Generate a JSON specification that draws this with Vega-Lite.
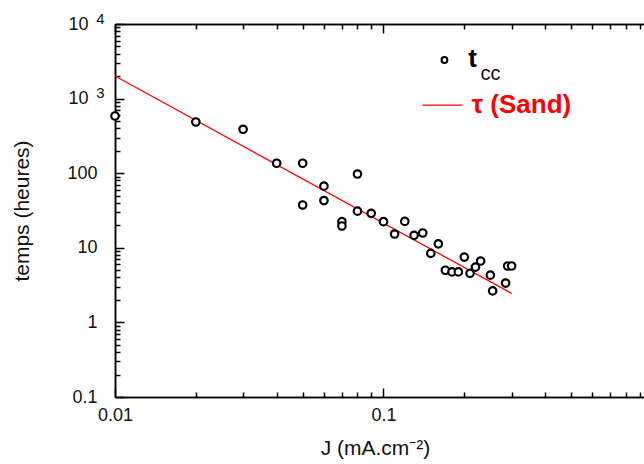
{
  "$schema": "https://vega.github.io/schema/vega-lite/v6.json",
  "width": 529,
  "height": 373,
  "autosize": {"type": "none"},
  "padding": {"left": 115, "top": 24, "right": 0, "bottom": 67},
  "background": "white",
  "config": {
    "view": {"stroke": null},
    "font": "Liberation Sans",
    "axis": {
      "grid": false,
      "domainColor": "#000000",
      "domainWidth": 1.5,
      "tickColor": "#000000",
      "tickWidth": 1.5,
      "labelFont": "Liberation Sans",
      "labelFontSize": 18,
      "labelColor": "#111111",
      "labelFlush": false,
      "labelOverlap": false,
      "labelBound": false,
      "titleFont": "Liberation Sans",
      "titleFontSize": 21,
      "titleFontWeight": "normal",
      "titleColor": "#111111"
    }
  },
  "datasets": {
    "tcc": [
      {"x": 0.01, "y": 585},
      {"x": 0.02, "y": 486},
      {"x": 0.03, "y": 388},
      {"x": 0.04, "y": 136},
      {"x": 0.05, "y": 136},
      {"x": 0.05, "y": 37.5},
      {"x": 0.06, "y": 67},
      {"x": 0.06, "y": 43},
      {"x": 0.07, "y": 22.4},
      {"x": 0.07, "y": 19.6},
      {"x": 0.08, "y": 97.5},
      {"x": 0.08, "y": 31},
      {"x": 0.09, "y": 29},
      {"x": 0.1, "y": 22.4},
      {"x": 0.11, "y": 15.3},
      {"x": 0.12, "y": 22.6},
      {"x": 0.13, "y": 14.7},
      {"x": 0.14, "y": 15.8},
      {"x": 0.15, "y": 8.4},
      {"x": 0.16, "y": 11.3},
      {"x": 0.17, "y": 5.0},
      {"x": 0.18, "y": 4.75},
      {"x": 0.19, "y": 4.75},
      {"x": 0.2, "y": 7.5},
      {"x": 0.21, "y": 4.55},
      {"x": 0.22, "y": 5.5},
      {"x": 0.23, "y": 6.65},
      {"x": 0.25, "y": 4.3},
      {"x": 0.255, "y": 2.64},
      {"x": 0.285, "y": 3.37},
      {"x": 0.29, "y": 5.7},
      {"x": 0.3, "y": 5.7}
    ],
    "sand": [
      {"x": 0.01, "y": 2010},
      {"x": 0.3, "y": 2.45}
    ],
    "legPt": [{"x": 0.1687, "y": 3292}],
    "legLine": [{"x": 0.1397, "x2": 0.1968, "y": 820}],
    "legT": [{"x": 0.207, "y": 2652, "label": "t"}],
    "legCC": [{"x": 0.2298, "y": 1775, "label": "cc"}],
    "legSand": [{"x": 0.2127, "y": 641, "label": "τ (Sand)"}]
  },
  "layer": [
    {
      "data": {"name": "sand"},
      "mark": {"type": "line", "color": "#ff0000", "strokeWidth": 1.3},
      "encoding": {
        "x": {
          "field": "x", "type": "quantitative",
          "scale": {"type": "log", "domain": [0.01, 0.9337], "nice": false},
          "axis": {
            "orient": "bottom",
            "values": [0.01, 0.1],
            "tickSize": -9,
            "labelPadding": 18,
            "labelExpr": "datum.value < 0.05 ? '0.01' : '0.1'",
            "title": "J (mA.cm⁻²)",
            "titleBaseline": "alphabetic",
            "titleAlign": "center",
            "titleX": 260,
            "titleY": 57
          }
        },
        "y": {
          "field": "y", "type": "quantitative",
          "scale": {"type": "log", "domain": [0.1, 10000], "nice": false},
          "axis": {
            "orient": "left",
            "values": [0.1, 1, 10, 100, 1000, 10000],
            "tickSize": -9,
            "labelPadding": 27,
            "labelExpr": "datum.value >= 1000 ? '' : datum.value >= 100 ? '100' : datum.value >= 10 ? '10' : datum.value >= 1 ? '1' : '0.1'",
            "title": "temps (heures)",
            "titleX": -83,
            "titleY": 186.5
          }
        }
      }
    },
    {
      "data": {"name": "tcc"},
      "mark": {"type": "point", "shape": "circle", "filled": false, "fill": "white", "fillOpacity": 1, "stroke": "#000000", "strokeWidth": 2.2, "size": 56, "opacity": 1},
      "encoding": {
        "x": {
          "field": "x", "type": "quantitative",
          "scale": {"type": "log", "domain": [0.01, 0.9337], "nice": false},
          "axis": {
            "orient": "bottom",
            "values": [0.02, 0.03, 0.04, 0.05, 0.06, 0.07, 0.08, 0.09, 0.2, 0.3, 0.4, 0.5, 0.6, 0.7, 0.8, 0.9],
            "tickSize": -5,
            "labels": false,
            "title": null
          }
        },
        "y": {
          "field": "y", "type": "quantitative",
          "scale": {"type": "log", "domain": [0.1, 10000], "nice": false},
          "axis": {
            "orient": "left",
            "values": [0.2, 0.3, 0.4, 0.5, 0.6, 0.7, 0.8, 0.9, 2, 3, 4, 5, 6, 7, 8, 9, 20, 30, 40, 50, 60, 70, 80, 90, 200, 300, 400, 500, 600, 700, 800, 900, 2000, 3000, 4000, 5000, 6000, 7000, 8000, 9000],
            "tickSize": -5,
            "labels": false,
            "title": null
          }
        }
      }
    },
    {
      "data": {"name": "legPt"},
      "mark": {"type": "point", "shape": "circle", "filled": false, "fill": "white", "fillOpacity": 1, "stroke": "#000000", "strokeWidth": 2, "size": 34, "opacity": 1},
      "encoding": {
        "x": {
          "field": "x", "type": "quantitative",
          "scale": {"type": "log", "domain": [0.01, 0.9337], "nice": false},
          "axis": {
            "orient": "top",
            "values": [0.01, 0.1],
            "tickSize": -9,
            "labels": false,
            "title": null
          }
        },
        "y": {
          "field": "y", "type": "quantitative",
          "scale": {"type": "log", "domain": [0.1, 10000], "nice": false},
          "axis": null
        }
      }
    },
    {
      "data": {"name": "legLine"},
      "mark": {"type": "rule", "color": "#ff0000", "strokeWidth": 1.3},
      "encoding": {
        "x": {
          "field": "x", "type": "quantitative",
          "scale": {"type": "log", "domain": [0.01, 0.9337], "nice": false},
          "axis": {
            "orient": "top",
            "values": [0.02, 0.03, 0.04, 0.05, 0.06, 0.07, 0.08, 0.09, 0.2, 0.3, 0.4, 0.5, 0.6, 0.7, 0.8, 0.9],
            "tickSize": -5,
            "labels": false,
            "title": null
          }
        },
        "x2": {"field": "x2"},
        "y": {
          "field": "y", "type": "quantitative",
          "scale": {"type": "log", "domain": [0.1, 10000], "nice": false},
          "axis": null
        }
      }
    },
    {
      "data": {"name": "legT"},
      "mark": {"type": "text", "align": "left", "baseline": "alphabetic", "fontSize": 26, "fontWeight": "bold", "font": "Liberation Sans", "color": "#000000"},
      "encoding": {
        "x": {"field": "x", "type": "quantitative", "scale": {"type": "log", "domain": [0.01, 0.9337], "nice": false}, "axis": null},
        "y": {
          "field": "y", "type": "quantitative",
          "scale": {"type": "log", "domain": [0.1, 10000], "nice": false},
          "axis": {
            "orient": "left",
            "values": [1000, 10000],
            "ticks": false,
            "tickSize": 0,
            "domain": false,
            "labelPadding": 11,
            "labelFontSize": 15,
            "labelOffset": -6,
            "labelExpr": "datum.value >= 10000 ? '4' : '3'",
            "title": null
          }
        },
        "text": {"field": "label"}
      }
    },
    {
      "data": {"name": "legCC"},
      "mark": {"type": "text", "align": "left", "baseline": "alphabetic", "fontSize": 20, "fontWeight": "normal", "font": "Liberation Sans", "color": "#111111"},
      "encoding": {
        "x": {"field": "x", "type": "quantitative", "scale": {"type": "log", "domain": [0.01, 0.9337], "nice": false}, "axis": null},
        "y": {
          "field": "y", "type": "quantitative",
          "scale": {"type": "log", "domain": [0.1, 10000], "nice": false},
          "axis": {
            "orient": "left",
            "values": [1000, 10000],
            "ticks": false,
            "tickSize": 0,
            "domain": false,
            "labelPadding": 27,
            "labelExpr": "'10'",
            "title": null
          }
        },
        "text": {"field": "label"}
      }
    },
    {
      "data": {"name": "legSand"},
      "mark": {"type": "text", "align": "left", "baseline": "alphabetic", "fontSize": 26, "fontWeight": "bold", "font": "Liberation Sans", "color": "#ff0000"},
      "encoding": {
        "x": {"field": "x", "type": "quantitative", "scale": {"type": "log", "domain": [0.01, 0.9337], "nice": false}, "axis": null},
        "y": {"field": "y", "type": "quantitative", "scale": {"type": "log", "domain": [0.1, 10000], "nice": false}, "axis": null},
        "text": {"field": "label"}
      }
    }
  ],
  "resolve": {"axis": {"x": "independent", "y": "independent"}}
}
